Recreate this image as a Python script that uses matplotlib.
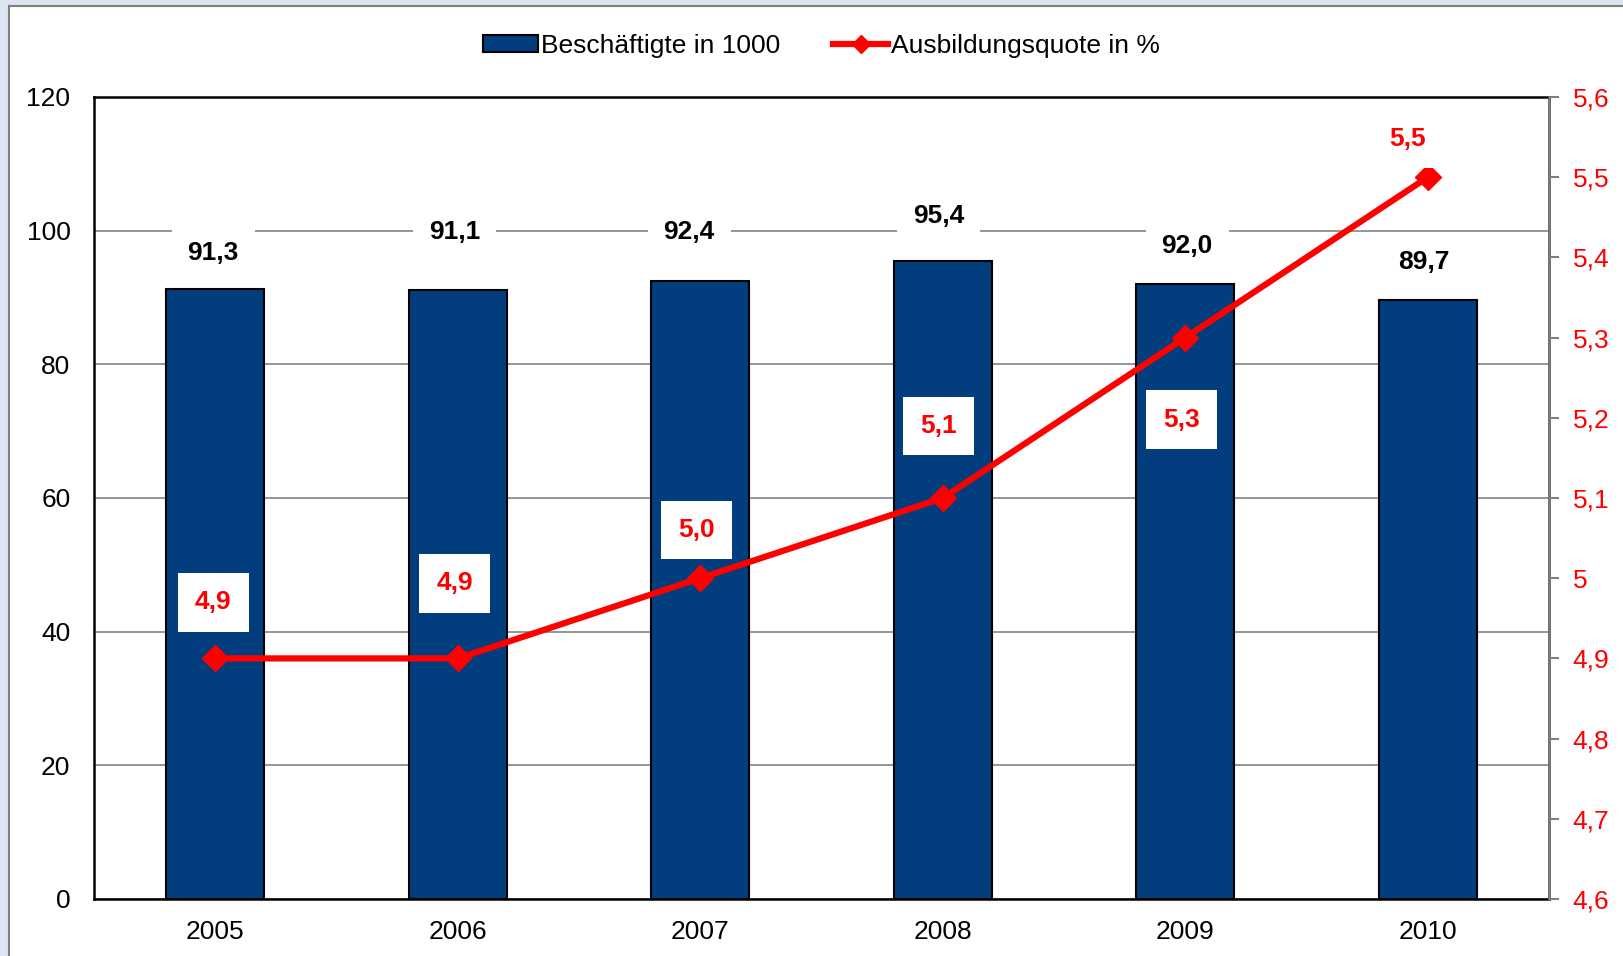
import numpy as np
import matplotlib.pyplot as plt
from matplotlib.patches import Rectangle
from matplotlib.lines import Line2D
from matplotlib.ticker import FuncFormatter

plt.rcParams['font.family'] = ['Liberation Sans', 'DejaVu Sans']

years = ['2005', '2006', '2007', '2008', '2009', '2010']
beschaeftigte = [91.3, 91.1, 92.4, 95.4, 92.0, 89.7]
quote = [4.9, 4.9, 5.0, 5.1, 5.3, 5.5]
left_ticks = [0, 20, 40, 60, 80, 100, 120]
right_ticks = [4.6, 4.7, 4.8, 4.9, 5.0, 5.1, 5.2, 5.3, 5.4, 5.5, 5.6]

# label offsets in pixels (dx, dy) relative to the data point
bar_off = [(-2, 36), (-3, 58), (-11, 49), (-4, 45), (2, 38), (-4, 38)]
line_off = [(-2, 56), (-3, 75), (-4, 48), (-4, 72), (-4, -82), (-20, 38)]

blue = '#023e7d'
red = '#ff0000'
fs = 19

fig = plt.figure(figsize=(16.23, 9.56), dpi=100)
fig.patch.set_facecolor('#dce6f2')
fig.patches.append(Rectangle((9 / 1623, -0.01), 1.0, 1 - 6 / 956 + 0.01,
                             transform=fig.transFigure, facecolor='white',
                             edgecolor='#7f7f7f', linewidth=1.5, zorder=-10))

ax = fig.add_axes([94 / 1623, 1 - 899 / 956, (1549 - 94) / 1623, (899 - 97) / 956])
ax.set_facecolor('white')
x = np.arange(len(years))
ax.bar(x, beschaeftigte, width=0.405, color=blue, edgecolor='black', linewidth=1.5, zorder=2)
ax.set_ylim(0, 120)
ax.set_xlim(-0.5, len(years) - 0.5)
ax.set_yticks(left_ticks)
ax.set_xticks(x)
ax.set_xticklabels(years)
ax.grid(axis='y', color='#8c8c8c', linewidth=1.3, zorder=0)
ax.tick_params(axis='y', length=0, labelsize=fs, pad=17)
ax.tick_params(axis='x', length=0, labelsize=fs, pad=15)
for s in ax.spines.values():
    s.set_linewidth(1.8)
    s.set_color('black')

for i, v in enumerate(beschaeftigte):
    dx, dy = bar_off[i]
    ax.annotate(f'{v:.1f}'.replace('.', ','), (x[i], v), xytext=(dx * 0.72, dy * 0.72),
                textcoords='offset points', ha='center', va='center',
                fontsize=fs, fontweight='bold', color='black', zorder=5,
                bbox=dict(boxstyle='square,pad=0.6', facecolor='white', edgecolor='none'))

ax2 = ax.twinx()
ax2.plot(x, quote, color=red, linewidth=4.5, marker='D', markersize=13, zorder=4)
ax2.set_ylim(4.6, 5.6)
ax2.set_yticks(right_ticks)
ax2.yaxis.set_major_formatter(FuncFormatter(
    lambda v, p: f'{v:.1f}'.replace('.', ',') if abs(v - 5.0) > 1e-6 else '5'))
ax2.tick_params(axis='y', colors='#7f7f7f', labelcolor=red, labelsize=fs,
                length=7, width=1.5, direction='out', pad=10)
ax2.spines['right'].set_color('#7f7f7f')
ax2.spines['right'].set_linewidth(1.8)
for k in ['left', 'top', 'bottom']:
    ax2.spines[k].set_visible(False)

for i, v in enumerate(quote):
    dx, dy = line_off[i]
    ax2.annotate(f'{v:.1f}'.replace('.', ','), (x[i], v), xytext=(dx * 0.72, dy * 0.72),
                 textcoords='offset points', ha='center', va='center',
                 fontsize=fs, fontweight='bold', color=red, zorder=6,
                 bbox=dict(boxstyle='square,pad=0.65', facecolor='white', edgecolor='none'))

handles = [Rectangle((0, 0), 1, 1, facecolor=blue, edgecolor='black', linewidth=1.5),
           Line2D([0], [0], color=red, linewidth=4.5, marker='D', markersize=9)]
fig.legend(handles, ['Beschäftigte in 1000', 'Ausbildungsquote in %'],
           loc='center', bbox_to_anchor=(0.506, 1 - 46 / 956), ncol=2, frameon=False,
           fontsize=fs, handlelength=2.1, handleheight=0.6, handletextpad=0.1,
           columnspacing=2.0)

fig.savefig('out.png', dpi=100, facecolor=fig.get_facecolor())
